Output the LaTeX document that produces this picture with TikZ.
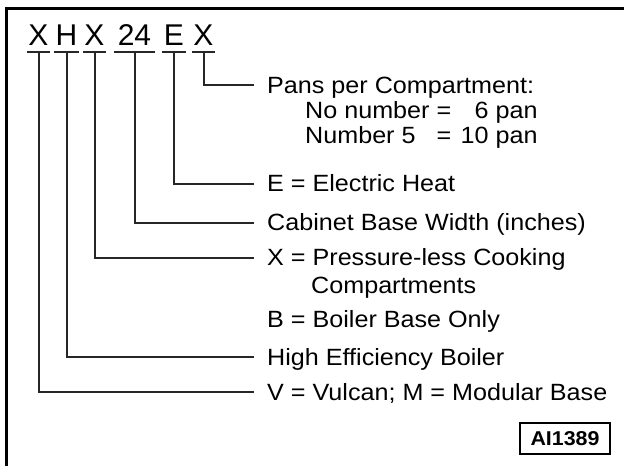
\documentclass[tikz,border=0pt]{standalone}
\usepackage{fontspec}
\setmainfont{Liberation Sans}[FakeStretch=1.07]
\newfontfamily\codefont{Liberation Sans}
\usetikzlibrary{positioning}
\tikzset{
    codechar/.style={anchor=base, inner xsep=1.5pt, inner ysep=7pt, font=\codefont\fontsize{30}{30}\selectfont},
    desc/.style={anchor=west, inner xsep=13pt, inner ysep=0pt, text height=16.8pt, text depth=0pt, font=\fontsize{23.5}{25}\selectfont},
    uline/.style={line width=2pt, draw=black!85},
    lead/.style={line width=2pt, draw=black!85},
    frame/.style={line width=3pt, draw=black},
    tag/.style={draw=black, line width=2pt, minimum width=90pt, minimum height=31pt, inner sep=0pt, font=\bfseries\fontsize{20}{20}\selectfont}
}
\begin{document}
\begin{tikzpicture}[x=1pt, y=-1pt]
\useasboundingbox (0,0) rectangle (624,466);

% Frame
\draw[frame] (624,8) -- (6,8) -- (6,466);

% Model code
\node (c1) [codechar] at (38.5,45) {X};
\node (c2) [codechar] at (66.5,45) {H};
\node (c3) [codechar] at (94.5,45) {X};
\node (c4) [codechar, inner xsep=4pt] at (134.5,45) {24};
\node (c5) [codechar] at (174,45) {E};
\node (c6) [codechar] at (203.5,45) {X};

\draw[uline] (c1.south west) -- (c1.south east);
\draw[uline] (c2.south west) -- (c2.south east);
\draw[uline] (c3.south west) -- (c3.south east);
\draw[uline] (c4.south west) -- (c4.south east);
\draw[uline] (c5.south west) -- (c5.south east);
\draw[uline] (c6.south west) -- (c6.south east);

% Descriptions
\node (pans) [desc] at (254,85) {Pans per Compartment:};
\node (pansnum) [anchor=base west, inner sep=0pt, font=\fontsize{23.5}{25}\selectfont] at (305,118)
    {\begin{tabular}[t]{@{}l@{\hspace{0.3em}}c@{\hspace{0.4em}}r@{}}No number & = & 6 pan\\ Number 5 & = & 10 pan\end{tabular}};
\node (heat) [desc] at (254,183.5) {E = Electric Heat};
\node (width) [desc] at (254,222.5) {Cabinet Base Width (inches)};
\node (cook) [desc] at (254,257.5) {X = Pressure-less Cooking};
\node (cook2) [desc] at (298,285.5) {Compartments};
\node (boiler) [desc] at (254,319.5) {B = Boiler Base Only};
\node (eff) [desc] at (254,357) {High Efficiency Boiler};
\node (base) [desc] at (254,392) {V = Vulcan; M = Modular Base};

\node (ai) [tag] at (565,438.5) {AI1389};

% Connectors
\draw[lead] (c6.south) |- (pans.west);
\draw[lead] (c5.south) |- (heat.west);
\draw[lead] (c4.south) |- (width.west);
\draw[lead] (c3.south) |- (cook.west);
\draw[lead] (c2.south) |- (eff.west);
\draw[lead] (c1.south) |- (base.west);

\end{tikzpicture}
\end{document}
